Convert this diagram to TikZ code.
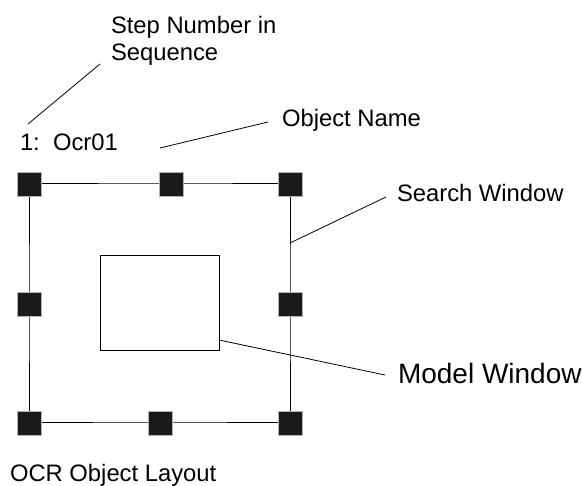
\documentclass[tikz,border=0pt]{standalone}
\usepackage{fontspec}
\setmainfont{Liberation Sans}
\definecolor{handle}{HTML}{1A1A1A}
\begin{document}
\begin{tikzpicture}[x=1pt,y=-1pt,
  handlebox/.style={draw=gray!60,line width=0.5pt,fill=handle,minimum size=24pt,inner sep=0pt,outer sep=0pt},
  edge/.style={draw=black,line width=1pt},
  leader/.style={draw=black,line width=0.8pt},
  lbl/.style={inner sep=0pt,outer sep=0pt,anchor=base west,font=\fontsize{23.8}{28}\selectfont},
  biglbl/.style={inner sep=0pt,outer sep=0pt,anchor=base west,font=\fontsize{28}{33}\selectfont}]
\useasboundingbox (0,0) rectangle (582,486);
% search window edges
\coordinate (ctl) at (29,184);
\coordinate (ctm) at (171,184);
\coordinate (ctr) at (290,184);
\coordinate (cml) at (29,304);
\coordinate (cmr) at (290,304);
\coordinate (cbl) at (29,423);
\coordinate (cbm) at (160,423);
\coordinate (cbr) at (290,423);
\draw[edge] (ctl) -- (ctm) -- (ctr) -- (cmr) -- (cbr) -- (cbm) -- (cbl) -- (cml) -- cycle;
% handles
\node[handlebox] (tl) at (ctl) {};
\node[handlebox] (tm) at (ctm) {};
\node[handlebox] (tr) at (ctr) {};
\node[handlebox] (ml) at (cml) {};
\node[handlebox] (mr) at (cmr) {};
\node[handlebox] (bl) at (cbl) {};
\node[handlebox] (bm) at (cbm) {};
\node[handlebox] (br) at (cbr) {};
% model window
\node[draw=black,line width=1pt,minimum width=119pt,minimum height=95pt,inner sep=0pt] (model) at (159.5,303.5) {};
% labels
\node[lbl] (step1) at (111,34) {Step Number in};
\node[lbl] (step2) at (111,61) {Sequence};
\node[lbl] (num) at (20,151) {1:\ \ Ocr01};
\node[lbl] (objname) at (282,127) {Object Name};
\node[lbl] (search) at (397,202) {Search Window};
\node[biglbl] (modellbl) at (398,384) {Model Window};
\node[lbl] (title) at (10,482) {OCR Object Layout};
% leaders
\coordinate (s1) at (100,64);
\coordinate (s2) at (28,124);
\coordinate (o1) at (160,148);
\coordinate (o2) at (268,122);
\coordinate (w1) at (290,243);
\coordinate (w2) at (386,197);
\coordinate (m1) at (219,340);
\coordinate (m2) at (385,375);
\draw[leader] (s1) -- (s2);
\draw[leader] (o1) -- (o2);
\draw[leader] (w1) -- (w2);
\draw[leader] (m1) -- (m2);
\end{tikzpicture}
\end{document}
